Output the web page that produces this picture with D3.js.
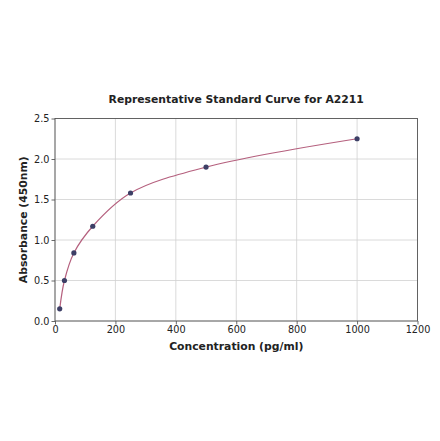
<!DOCTYPE html>
<html><head><meta charset="utf-8">
<script src="https://cdn.jsdelivr.net/npm/d3@7"></script>
<style>body{margin:0;background:#fff}svg{display:block}text{font-family:"DejaVu Sans",sans-serif;fill:#222}</style>
</head><body>
<svg id="c" width="440" height="441"></svg>
<script>
const concentration = [15.6, 31.25, 62.5, 125, 250, 500, 1000];
const absorbance = [0.15, 0.50, 0.84, 1.17, 1.58, 1.90, 2.25];
const xTicks = [0, 200, 400, 600, 800, 1000, 1200];
const yTicks = [0.0, 0.5, 1.0, 1.5, 2.0, 2.5];
const titleText = "Representative Standard Curve for A2211";
const xTitle = "Concentration (pg/ml)";
const yTitle = "Absorbance (450nm)";

const svg = d3.select("#c");
const L = 55, R = 417.5, T = 118.5, B = 321;
const x = d3.scaleLinear().domain([0, 1200]).range([L, R]);
const y = d3.scaleLinear().domain([0, 2.5]).range([B, T]);

// grid
svg.append("g").selectAll("line").data(xTicks).join("line")
  .attr("x1", d => x(d)).attr("x2", d => x(d)).attr("y1", T).attr("y2", B)
  .attr("stroke", "#d0d0d0").attr("stroke-width", 0.8);
svg.append("g").selectAll("line").data(yTicks).join("line")
  .attr("y1", d => y(d)).attr("y2", d => y(d)).attr("x1", L).attr("x2", R)
  .attr("stroke", "#d0d0d0").attr("stroke-width", 0.8);

// axes
const xa = svg.append("g").attr("transform", `translate(0,${B})`)
  .call(d3.axisBottom(x).tickValues(xTicks).tickFormat(d3.format("d")).tickSize(3.5).tickPadding(2));
const ya = svg.append("g").attr("transform", `translate(${L},0)`)
  .call(d3.axisLeft(y).tickValues(yTicks).tickFormat(d3.format(".1f")).tickSize(3.5).tickPadding(2));
[xa, ya].forEach(a => {
  a.select(".domain").remove();
  a.selectAll("line").attr("stroke", "#444").attr("stroke-width", 0.8);
  a.selectAll("text").attr("font-size", 9.7).attr("fill", "#222").attr("font-family", "DejaVu Sans");
});

// frame
svg.append("rect").attr("x", L).attr("y", T).attr("width", R - L).attr("height", B - T)
  .attr("fill", "none").attr("stroke", "#555").attr("stroke-width", 0.9);

// curve
const pts = concentration.map((c, i) => [c, absorbance[i]]);
svg.append("path").datum(pts)
  .attr("d", d3.line().x(d => x(d[0])).y(d => y(d[1])).curve(d3.curveCatmullRom.alpha(0.5)))
  .attr("fill", "none").attr("stroke", "#b5607e").attr("stroke-width", 1.2);

svg.append("g").selectAll("circle").data(pts).join("circle")
  .attr("cx", d => x(d[0])).attr("cy", d => y(d[1])).attr("r", 2.6)
  .attr("fill", "#3d3f66");

// titles
svg.append("text").attr("x", (L + R) / 2).attr("y", 103).attr("text-anchor", "middle")
  .attr("font-size", 10.8).attr("font-weight", "bold").text(titleText);
svg.append("text").attr("x", (L + R) / 2).attr("y", 350).attr("text-anchor", "middle")
  .attr("font-size", 10.8).attr("font-weight", "bold").text(xTitle);
svg.append("text").attr("transform", `translate(26.5,${(T + B) / 2}) rotate(-90)`).attr("text-anchor", "middle")
  .attr("font-size", 10.8).attr("font-weight", "bold").text(yTitle);
</script>
</body></html>
